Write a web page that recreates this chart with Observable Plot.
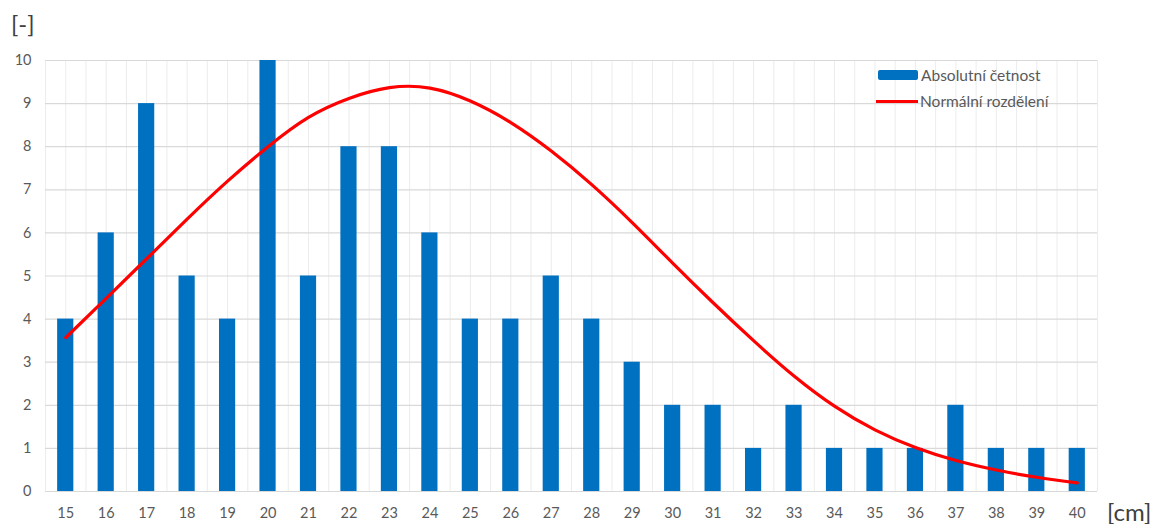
<!DOCTYPE html>
<html>
<head>
<meta charset="utf-8">
<script src="https://cdn.jsdelivr.net/npm/d3@7"></script>
<script src="https://cdn.jsdelivr.net/npm/@observablehq/plot@0.6"></script>
<style>
  html, body { margin: 0; padding: 0; background: #fff; }
  #wrap { position: relative; width: 1160px; height: 524px; font-family: Lato, "Open Sans", sans-serif; }
  .unit { position: absolute; font-size: 24px; color: #404040; line-height: 1; }
  .leg { position: absolute; font-size: 15.5px; color: #595959; display: flex; align-items: center; height: 20px; white-space: nowrap; }
</style>
</head>
<body>
<div id="wrap"></div>
<script>
// Data
const categories = [15,16,17,18,19,20,21,22,23,24,25,26,27,28,29,30,31,32,33,34,35,36,37,38,39,40];
const absoluteFrequency = [4,6,9,5,4,10,5,8,8,6,4,4,5,4,3,2,2,1,2,1,1,1,2,1,1,1];
const normalDistribution = [3.57,4.48,5.4,6.32,7.2,8.0,8.68,9.12,9.37,9.36,9.06,8.56,7.9,7.12,6.24,5.3,4.38,3.5,2.68,1.98,1.43,1.02,0.72,0.5,0.33,0.2];
const yTicks = [0,1,2,3,4,5,6,7,8,9,10];
const seriesNames = ["Absolutní četnost", "Normální rozdělení"];
const yUnit = "[-]";
const xUnit = "[cm]";

const bars = categories.map((c, i) => ({x: c, y: absoluteFrequency[i]}));
const curve = categories.map((c, i) => ({x: c, y: normalDistribution[i]}));
const halfGrid = d3.range(categories[0] * 2 - 1, categories[categories.length - 1] * 2 + 2).map(v => v / 2);
const barHalf = 0.2;

const chart = Plot.plot({
  width: 1160,
  height: 524,
  marginTop: 60,
  marginBottom: 33,
  marginLeft: 45,
  marginRight: 63,
  style: {fontFamily: "Lato, 'Open Sans', sans-serif", fontSize: "14px", color: "#595959", background: "#fff"},
  x: {domain: [categories[0] - 0.5, categories[categories.length - 1] + 0.5], axis: null},
  y: {domain: [0, 10], axis: null},
  marks: [
    Plot.ruleX(halfGrid, {x: d => d, y1: 0, y2: 10, stroke: "#ececec", strokeWidth: 1}),
    Plot.ruleY(yTicks, {y: d => d, stroke: "#d9d9d9", strokeWidth: 1.2}),
    Plot.rectY(bars, {x1: d => d.x - barHalf, x2: d => d.x + barHalf, y1: 0, y2: "y", fill: "#0070C0"}),
    Plot.line(curve, {x: "x", y: "y", stroke: "#FF0000", strokeWidth: 3.2, curve: "natural"}),
    Plot.axisY(yTicks, {tickSize: 0, tickPadding: 14, fontSize: 14.5, fill: "#595959", tickFormat: d => d, label: null}),
    Plot.axisX(categories, {tickSize: 0, tickPadding: 16, fontSize: 14.5, fill: "#595959", tickFormat: d => d, label: null})
  ]
});

const wrap = document.getElementById("wrap");
wrap.appendChild(chart);

function addDiv(cls, html, left, top) {
  const d = document.createElement("div");
  d.className = cls;
  d.innerHTML = html;
  d.style.left = left + "px";
  d.style.top = top + "px";
  wrap.appendChild(d);
  return d;
}
addDiv("unit", yUnit, 11, 12);
addDiv("unit", xUnit, 1107, 500);
addDiv("leg", `<span style="display:inline-block;width:40px;height:10px;background:#0070C0;border-radius:2px;margin-right:3px"></span>${seriesNames[0]}`, 878, 65);
addDiv("leg", `<span style="display:inline-block;width:42px;height:3px;background:#FF0000;margin-right:2px"></span>${seriesNames[1]}`, 876, 91);
</script>
</body>
</html>
